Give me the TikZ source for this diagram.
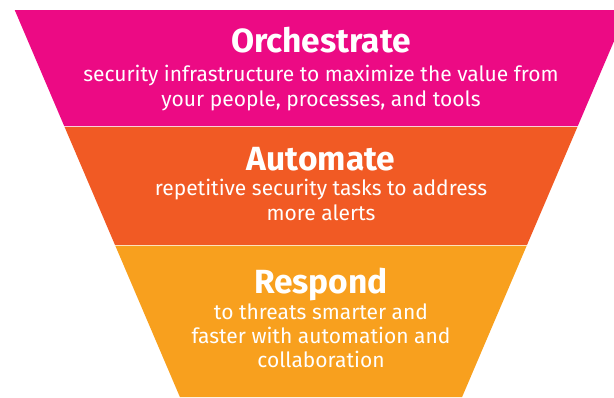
\documentclass[tikz,border=0pt]{standalone}
\usepackage{fontspec}
\setmainfont{Fira Sans}
\usepackage{tikz}

\definecolor{bandpink}{HTML}{EC0A84}
\definecolor{bandorange}{HTML}{F15A24}
\definecolor{bandyellow}{HTML}{F8A01E}

\begin{document}
\begin{tikzpicture}[
    x=1pt, y=1pt,
    band/.style={draw=none},
    split/.style={draw=white, opacity=0.7, line width=0.8pt},
    title/.style={anchor=base, text=white, font=\fontsize{33.5}{38}\selectfont\bfseries, inner sep=0pt},
    body/.style={anchor=base, text=white, align=center, font=\fontsize{21}{24.3}\selectfont, inner sep=0pt}
]
    \useasboundingbox (0,0) rectangle (614,-397);
    \clip (0,0) rectangle (614,-397);

    % Bands
    \fill[band, bandpink] (14.7,-10) -- (627.3,-10) -- (577.6,-126.5) -- (64.4,-126.5) -- cycle;
    \fill[band, bandorange] (64.4,-126.5) -- (577.6,-126.5) -- (527,-245) -- (115,-245) -- cycle;
    \fill[band, bandyellow] (115,-245) -- (527,-245) -- (462.1,-397) -- (179.9,-397) -- cycle;
    \draw[split] (64.4,-126.5) -- (577.6,-126.5);
    \draw[split] (115,-245) -- (527,-245);

    % Texts (body nodes sit on the baseline of their last line)
    \node[title] (orchestrate) at (321,-52.7) {Orchestrate};
    \node[body] (orchestratetext) at (321,-106) {security infrastructure to maximize the value from\\your people, processes, and tools};
    \node[title] (automate) at (321,-170) {Automate};
    \node[body] (automatetext) at (321,-220) {repetitive security tasks to address\\more alerts};
    \node[title] (respond) at (321,-293.3) {Respond};
    \node[body] (respondtext) at (321,-367.7) {to threats smarter and\\faster with automation and\\collaboration};
\end{tikzpicture}
\end{document}
